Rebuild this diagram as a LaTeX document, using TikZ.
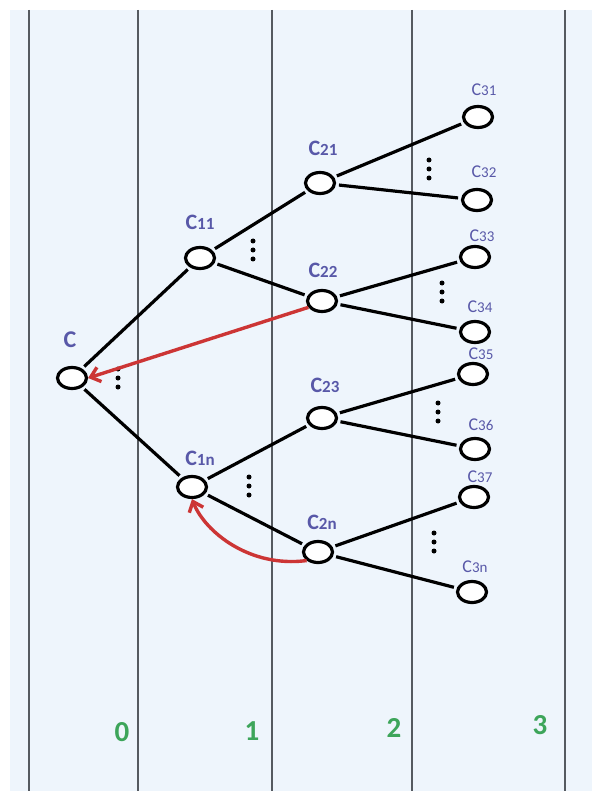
\documentclass[tikz,border=0pt]{standalone}
\usepackage{fontspec}
\setmainfont{Carlito}
\usetikzlibrary{shapes.geometric,arrows.meta}
\definecolor{fondo}{HTML}{EEF5FC}
\definecolor{rejilla}{HTML}{555A60}
\definecolor{azul}{HTML}{5858A8}
\definecolor{verde}{HTML}{3DA55A}
\definecolor{rojo}{HTML}{CC3535}
\tikzstyle{estado}=[draw, ellipse, line width=3.2pt, fill=white,
  minimum width=29pt, minimum height=21pt, inner sep=0pt]
\tikzstyle{etiqueta}=[text=azul, inner sep=0pt,
  font=\bfseries\fontsize{22}{22}\selectfont]
\tikzstyle{hoja}=[text=azul, inner sep=0pt,
  font=\fontsize{18}{18}\selectfont]
\tikzstyle{nivel}=[text=verde, font=\bfseries\fontsize{29}{29}\selectfont]
\tikzstyle{columna}=[draw=rejilla, line width=1.3pt]
\tikzstyle{line}=[draw, line width=3.2pt, shorten <=3pt, shorten >=3pt]
\tikzstyle{vuelta}=[draw, line width=3.4pt, color=rojo,
  -{Straight Barb[length=9pt,width=15pt]}]
\newcommand{\estado}[3]{node (#1) [estado] {} +(#2) node (l#1) [etiqueta] {#3}}
\newcommand{\hoja}[3]{node (#1) [estado] {} +(#2) node (l#1) [hoja] {#3}}
\newcommand{\ind}[1]{{\fontsize{17}{17}\selectfont #1}}
\newcommand{\indh}[1]{{\fontsize{15}{15}\selectfont #1}}
\newcommand{\puntos}[1]{\foreach \k in {-9,0,9} \fill (#1) +(0,\k) circle (2.5);}

\begin{document}
\begin{tikzpicture}[x=1pt,y=-1pt]

\useasboundingbox (0,0) rectangle (592,791);
\fill[fondo] (10,10) rectangle (592,791);

% columns
\foreach \x in {29,138,272,412,565}
  \path [columna] (\x,10) -- (\x,791);

% tree
\path (72,378)  \estado{c}{-2,-38}{\fontsize{24}{24}\selectfont C};

\path (200,258) \estado{c11}{0,-36}{C\ind{11}};
\path (192,487) \estado{c1n}{8,-29}{C\ind{1n}};

\path (320,183) \estado{c21}{3,-35}{C\ind{21}};
\path (322,301) \estado{c22}{1,-31}{C\ind{22}};
\path (322,418) \estado{c23}{3,-33}{C\ind{23}};
\path (318,552) \estado{c2n}{4,-30}{C\ind{2n}};

\path (478,117) \hoja{c31}{6,-27}{C\indh{31}};
\path (477,200) \hoja{c32}{7,-28}{C\indh{32}};
\path (475,257) \hoja{c33}{7,-21}{C\indh{33}};
\path (475,332) \hoja{c34}{5,-25}{C\indh{34}};
\path (473,374) \hoja{c35}{8,-20}{C\indh{35}};
\path (475,449) \hoja{c36}{6,-24}{C\indh{36}};
\path (474,497) \hoja{c37}{6,-20}{C\indh{37}};
\path (472,592) \hoja{c3n}{3,-25}{C\indh{3n}};

% edges
\path [line] (c) -- (c11);
\path [line] (c) -- (c1n);
\path [line] (c11) -- (c21);
\path [line] (c11) -- (c22);
\path [line] (c1n) -- (c23);
\path [line] (c1n) -- (c2n);
\path [line] (c21) -- (c31);
\path [line] (c21) -- (c32);
\path [line] (c22) -- (c33);
\path [line] (c22) -- (c34);
\path [line] (c23) -- (c35);
\path [line] (c23) -- (c36);
\path [line] (c2n) -- (c37);
\path [line] (c2n) -- (c3n);

% dots
\puntos{118,378}
\puntos{253,250}
\puntos{249,486}
\puntos{429,169}
\puntos{442,292}
\puntos{438,412}
\puntos{434,542}

% backtracking
\path [vuelta] (c22.205) -- (c.east);
\path [vuelta] (c2n.south west) .. controls (250,568) and (205,532) .. (c1n.south);

% levels
\path (122,732) node (n0) [nivel] {0};
\path (252,731) node (n1) [nivel] {1};
\path (394,728) node (n2) [nivel] {2};
\path (540,725) node (n3) [nivel] {3};

\end{tikzpicture}
\end{document}
